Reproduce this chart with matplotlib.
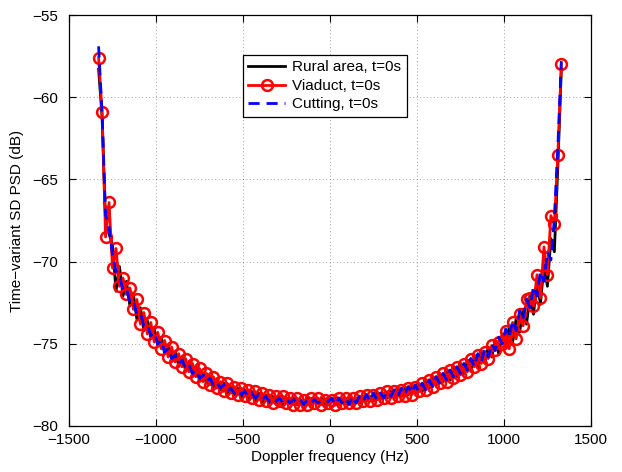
import numpy as np
import matplotlib
matplotlib.use("Agg")
import matplotlib.pyplot as plt

plt.rcParams['font.family'] = ['Liberation Sans', 'DejaVu Sans']

# Doppler frequency grid (Hz): -1330 ... 1330 in 20 Hz steps
freq = np.arange(-1330, 1331, 20)

# Time-variant SD PSD (dB), negative half then positive half
rural_neg = [-58.3, -61.2, -67.6, -68.3, -69.0, -71.8, -70.3, -72.1, -71.2, -72.7,
             -72.0, -73.5, -72.8, -74.2, -73.6, -74.6, -74.1, -75.1, -74.6, -75.6,
             -75.1, -75.9, -75.5, -76.3, -75.8, -76.6, -76.1, -76.9, -76.4, -77.2,
             -76.8, -77.4, -77.0, -77.7, -77.2, -77.8, -77.4, -78.0, -77.6, -78.1,
             -77.7, -78.3, -77.8, -78.4, -77.9, -78.5, -78.0, -78.6, -78.1, -78.6,
             -78.2, -78.7, -78.2, -78.7, -78.3, -78.6, -78.3, -78.7, -78.4, -78.8,
             -78.3, -78.7, -78.4, -78.6, -78.3, -78.7, -78.5]
rural_pos = [-78.5, -78.3, -78.7, -78.4, -78.6, -78.3, -78.7, -78.3, -78.6, -78.2,
             -78.5, -78.2, -78.4, -78.0, -78.4, -78.0, -78.3, -77.9, -78.3, -77.8,
             -78.2, -77.7, -78.1, -77.6, -78.0, -77.5, -77.9, -77.3, -77.7, -77.1,
             -77.5, -76.9, -77.3, -76.7, -77.2, -76.5, -77.0, -76.3, -76.8, -76.0,
             -76.6, -75.8, -76.4, -75.5, -76.1, -75.2, -75.8, -74.8, -75.6, -74.4,
             -75.2, -74.0, -74.9, -73.5, -74.3, -72.9, -73.8, -72.0, -73.2, -71.2,
             -72.6, -70.2, -71.5, -68.6, -69.4, -64.2, -58.3]

viaduct_neg = [-57.6, -60.9, -68.5, -66.4, -70.4, -69.2, -71.5, -71.0, -72.0, -71.6,
               -72.9, -72.3, -73.8, -73.1, -74.4, -73.7, -74.9, -74.3, -75.3, -74.8,
               -75.8, -75.2, -76.1, -75.6, -76.4, -75.9, -76.7, -76.2, -77.0, -76.5,
               -77.3, -76.8, -77.5, -77.0, -77.7, -77.3, -77.9, -77.4, -78.0, -77.6,
               -78.1, -77.7, -78.2, -77.8, -78.3, -77.9, -78.4, -78.0, -78.5, -78.1,
               -78.6, -78.2, -78.5, -78.2, -78.6, -78.3, -78.7, -78.3, -78.7, -78.4,
               -78.7, -78.3, -78.6, -78.3, -78.7, -78.4, -78.6]
viaduct_pos = [-78.4, -78.7, -78.3, -78.6, -78.3, -78.6, -78.3, -78.6, -78.2, -78.5,
               -78.1, -78.5, -78.1, -78.4, -78.0, -78.3, -77.9, -78.3, -77.9, -78.2,
               -77.8, -78.2, -77.7, -78.1, -77.6, -77.9, -77.4, -77.8, -77.2, -77.6,
               -77.0, -77.4, -76.8, -77.3, -76.6, -77.1, -76.4, -76.9, -76.2, -76.7,
               -75.9, -76.4, -75.7, -76.2, -75.5, -75.9, -75.1, -75.4, -74.9, -75.0,
               -74.2, -75.3, -73.7, -74.7, -73.2, -73.9, -72.3, -72.2, -72.7, -70.8,
               -72.2, -69.1, -70.8, -67.2, -67.7, -63.5, -58.0]

cutting_neg = [-56.9, -61.0, -67.2, -67.9, -69.6, -70.6, -70.9, -71.7, -71.6, -72.5,
               -72.4, -73.2, -73.1, -73.9, -73.8, -74.5, -74.3, -75.0, -74.8, -75.5,
               -75.3, -75.9, -75.7, -76.2, -76.0, -76.5, -76.3, -76.8, -76.6, -77.1,
               -76.9, -77.3, -77.1, -77.5, -77.3, -77.7, -77.5, -77.9, -77.7, -78.0,
               -77.8, -78.1, -77.9, -78.2, -78.0, -78.3, -78.1, -78.4, -78.2, -78.5,
               -78.3, -78.5, -78.3, -78.6, -78.4, -78.6, -78.4, -78.6, -78.4, -78.7,
               -78.4, -78.6, -78.4, -78.6, -78.5, -78.6, -78.5]
cutting_pos = [-78.3, -78.7, -78.3, -78.6, -78.3, -78.7, -78.2, -78.6, -78.2, -78.5,
               -78.1, -78.5, -78.0, -78.4, -78.0, -78.3, -77.9, -78.2, -77.8, -78.2,
               -77.7, -78.1, -77.6, -78.0, -77.5, -77.9, -77.4, -77.8, -77.2, -77.6,
               -77.0, -77.4, -76.8, -77.2, -76.6, -77.0, -76.4, -76.8, -76.2, -76.6,
               -75.9, -76.4, -75.6, -76.1, -75.3, -75.8, -75.0, -75.4, -74.6, -75.0,
               -74.1, -74.6, -73.6, -74.2, -73.0, -73.5, -72.3, -72.8, -71.5, -72.1,
               -70.6, -71.2, -69.4, -69.9, -67.4, -63.0, -57.8]

labels = ["Rural area, t=0s", "Viaduct, t=0s", "Cutting, t=0s"]
xticks = [-1500, -1000, -500, 0, 500, 1000, 1500]
yticks = [-80, -75, -70, -65, -60, -55]

rural = rural_neg + rural_pos
viaduct = viaduct_neg + viaduct_pos
cutting = cutting_neg + cutting_pos

fig = plt.figure(figsize=(6.22, 4.72), dpi=100)
ax = fig.add_axes([0.111, 0.0975, 0.839, 0.8705])

ax.plot(freq, rural, color='black', lw=2.0, label=labels[0], zorder=3)
ax.plot(freq, viaduct, color='red', lw=2.0, marker='o', ms=7.8,
        mfc='none', mec='red', mew=1.8, label=labels[1], zorder=4)
ax.plot(freq, cutting, color='blue', lw=2.0, ls=(0, (4, 2.5)),
        label=labels[2], zorder=5)

ax.set_xlim(-1500, 1500)
ax.set_ylim(-80, -55)
ax.set_xticks(xticks)
ax.set_yticks(yticks)
ax.tick_params(direction='in', top=True, right=True, labelsize=11,
               length=5, width=0.8)
ax.tick_params(axis='y', pad=8)
ax.tick_params(axis='x', pad=5)
ax.grid(True, color='black', ls=(0, (1, 4)), lw=0.5, alpha=0.7)
for s in ax.spines.values():
    s.set_linewidth(0.9)

ax.set_xlabel("Doppler frequency (Hz)", fontsize=11, labelpad=2)
ax.set_ylabel("Time\u2212variant SD PSD (dB)", fontsize=11, labelpad=6)

leg = ax.legend(loc='upper left', bbox_to_anchor=(0.333, 0.903),
                borderaxespad=0, fancybox=False, framealpha=1,
                edgecolor='black', fontsize=11, handlelength=2.4,
                borderpad=0.35, labelspacing=0.3, handletextpad=0.5)
leg.get_frame().set_linewidth(0.9)

fig.savefig("out.png", dpi=100)
